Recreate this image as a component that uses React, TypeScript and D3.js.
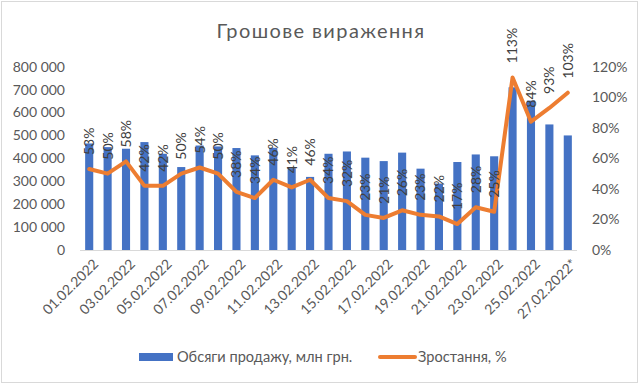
import { useEffect, useRef } from 'react'
import * as d3 from 'd3'

const dates = [
  '01.02.2022', '02.02.2022', '03.02.2022', '04.02.2022', '05.02.2022', '06.02.2022', '07.02.2022',
  '08.02.2022', '09.02.2022', '10.02.2022', '11.02.2022', '12.02.2022', '13.02.2022', '14.02.2022',
  '15.02.2022', '16.02.2022', '17.02.2022', '18.02.2022', '19.02.2022', '20.02.2022', '21.02.2022',
  '22.02.2022', '23.02.2022', '24.02.2022', '25.02.2022', '26.02.2022', '27.02.2022*',
]
const sales = [
  465000, 449000, 442000, 471000, 420000, 362000, 456000, 452000, 445000, 413000, 446000, 357000,
  319000, 420000, 430000, 403000, 388000, 425000, 355000, 290000, 384000, 417000, 409000, 710000,
  652000, 548000, 500000,
]
const growth = [
  53, 50, 58, 42, 42, 50, 54, 50, 38, 34, 46, 41, 46, 34, 32, 23, 21, 26, 23, 22, 17, 28, 25, 113,
  84, 93, 103,
]
const leftTicks = [0, 100000, 200000, 300000, 400000, 500000, 600000, 700000, 800000]
const rightTicks = [0, 20, 40, 60, 80, 100, 120]
const title = 'Грошове вираження'
const barLabel = 'Обсяги продажу, млн грн.'
const lineLabel = 'Зростання, %'

export default function App() {
  const svgRef = useRef<SVGSVGElement>(null)

  useEffect(() => {
    if (!svgRef.current) return
    document.body.style.margin = '0'
    const svg = d3.select(svgRef.current)
    svg.selectAll('*').remove()

    const W = 640
    const H = 385
    const font = 'Lato, "Open Sans", sans-serif'
    const blue = '#4472C4'
    const orange = '#ED7D31'

    svg.attr('width', W).attr('height', H)

    svg.append('rect')
      .attr('x', 1.5).attr('y', 1.5)
      .attr('width', W - 4).attr('height', H - 4)
      .attr('fill', '#fff')
      .attr('stroke', '#d9d9d9')

    const x = d3.scaleBand<string>()
      .domain(dates)
      .range([80, 577])
      .paddingInner(0.56)
      .paddingOuter(0.28)
    const yL = d3.scaleLinear().domain([0, 800000]).range([250, 66.7])
    const yR = d3.scaleLinear().domain([0, 120]).range([250, 66.7])
    const cx = (d: string) => (x(d) ?? 0) + x.bandwidth() / 2

    svg.append('text')
      .attr('x', 321)
      .attr('y', 38)
      .attr('text-anchor', 'middle')
      .attr('fill', '#595959')
      .style('font-family', font)
      .style('font-size', '20px')
      .style('letter-spacing', '1.4px')
      .text(title)

    // left axis labels
    svg.append('g')
      .selectAll('text')
      .data(leftTicks)
      .join('text')
      .attr('x', 65)
      .attr('y', d => yL(d))
      .attr('dy', '0.35em')
      .attr('text-anchor', 'end')
      .attr('fill', '#595959')
      .style('font-family', font)
      .style('font-size', '14px')
      .text(d => d3.format(',')(d).replace(/,/g, ' '))

    // right axis labels
    svg.append('g')
      .selectAll('text')
      .data(rightTicks)
      .join('text')
      .attr('x', 592)
      .attr('y', d => yR(d))
      .attr('dy', '0.35em')
      .attr('fill', '#595959')
      .style('font-family', font)
      .style('font-size', '14px')
      .text(d => `${d}%`)

    // bars
    svg.append('g')
      .selectAll('rect')
      .data(dates)
      .join('rect')
      .attr('x', d => x(d) ?? 0)
      .attr('width', x.bandwidth())
      .attr('y', (_, i) => yL(sales[i]))
      .attr('height', (_, i) => yL(0) - yL(sales[i]))
      .attr('fill', blue)

    svg.append('line')
      .attr('x1', 80).attr('x2', 577)
      .attr('y1', 250.5).attr('y2', 250.5)
      .attr('stroke', '#d9d9d9')
      .attr('stroke-width', 1)

    // x labels, every second date
    svg.append('g')
      .selectAll('text')
      .data(dates.filter((_, i) => i % 2 === 0))
      .join('text')
      .attr('transform', d => `translate(${cx(d) + 3},${258}) rotate(-45)`)
      .attr('text-anchor', 'end')
      .attr('dy', '0.7em')
      .attr('fill', '#595959')
      .style('font-family', font)
      .style('font-size', '14px')
      .text(d => d)

    // growth line
    const line = d3.line<number>()
      .x((_, i) => cx(dates[i]))
      .y(d => yR(d))

    svg.append('path')
      .datum(growth)
      .attr('fill', 'none')
      .attr('stroke', orange)
      .attr('stroke-width', 4)
      .attr('stroke-linejoin', 'round')
      .attr('stroke-linecap', 'round')
      .attr('d', line)

    // data labels
    svg.append('g')
      .selectAll('text')
      .data(growth)
      .join('text')
      .attr('transform', (d, i) => `translate(${cx(dates[i])},${yR(d) - 14}) rotate(-90)`)
      .attr('dy', '0.35em')
      .attr('fill', '#404040')
      .style('font-family', font)
      .style('font-size', '14px')
      .text(d => `${d}%`)

    // legend
    const legend = svg.append('g')
    legend.append('rect')
      .attr('x', 139).attr('y', 353)
      .attr('width', 34).attr('height', 8)
      .attr('fill', blue)
    legend.append('text')
      .attr('x', 177).attr('y', 357)
      .attr('dy', '0.35em')
      .attr('fill', '#595959')
      .style('font-family', font)
      .style('font-size', '14.6px')
      .text(barLabel)
    legend.append('line')
      .attr('x1', 380).attr('x2', 415)
      .attr('y1', 357).attr('y2', 357)
      .attr('stroke', orange)
      .attr('stroke-width', 4)
      .attr('stroke-linecap', 'round')
    legend.append('text')
      .attr('x', 418).attr('y', 357)
      .attr('dy', '0.35em')
      .attr('fill', '#595959')
      .style('font-family', font)
      .style('font-size', '14.6px')
      .text(lineLabel)
  }, [])

  return (
    <div style={{ position: 'absolute', left: 0, top: 0 }}>
      <svg ref={svgRef}></svg>
    </div>
  )
}
